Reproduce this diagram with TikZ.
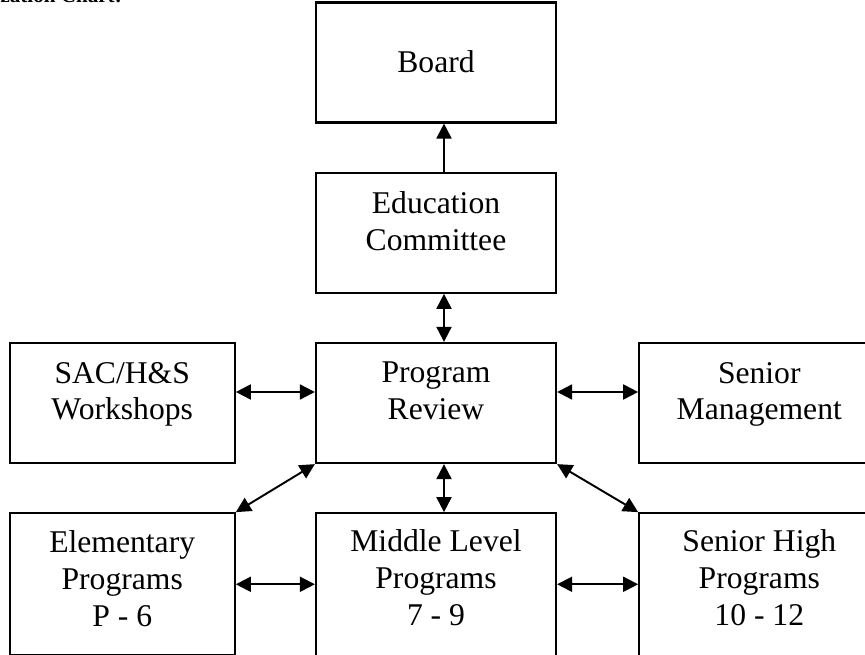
\documentclass[tikz,border=0pt]{standalone}
\usepackage{fontspec}
\setmainfont{Liberation Serif}
\usetikzlibrary{arrows.meta}
\usetikzlibrary{positioning}

\tikzset{
	unit/.style={draw,line width=1.3pt,minimum width=4.8cm,minimum height=2.4cm,
		align=center,inner sep=0pt,font=\fontsize{18}{21}\selectfont},
	narrow/.style={minimum width=4.5cm},
	raised/.style={text depth=0.48cm},
	link/.style={line width=1.1pt,>={Triangle[length=0.3cm,width=0.3cm]}}
}

\begin{document}
\begin{tikzpicture}[node distance=0.96cm]
			\useasboundingbox (-8.72,-5.02) rectangle (8.58,8.06);
			\node[unit,raised] (Review) {Program\\Review};
			\node[unit,raised] [above=of Review] (Education) {Education\\Committee};
			\node[unit,text depth=0.05cm] [above=of Education] (Board) {Board};
			\node[unit,narrow,raised] [left=1.58cm of Review] (Workshops) {SAC/H\&S\\Workshops};
			\node[unit,raised] [right=1.62cm of Review] (Management) {Senior\\Management};
			\node[unit,narrow,minimum height=2.84cm,text depth=0.24cm] [below=of Workshops] (Elementary) {Elementary\\Programs\\P - 6};
			\node[unit,minimum height=3cm,text depth=0.44cm] [below=of Review] (Middle) {Middle Level\\Programs\\7 - 9};
			\node[unit,minimum height=3cm,text depth=0.44cm] [below=of Management] (High) {Senior High\\Programs\\10 - 12};
			\node[anchor=base east,font=\fontsize{12}{14}\selectfont\bfseries] (Title) at (-6.16,8.00) {Organization Chart:};

			\path[link,->]
			([xshift=0.16cm]Education.north) edge ([xshift=0.16cm]Board.south);
			\path[link,<->]
			([xshift=0.16cm]Review.north) edge ([xshift=0.16cm]Education.south)
			([xshift=0.16cm]Review.south) edge ([xshift=0.16cm]Middle.north)
			([yshift=0.22cm]Workshops.east) edge ([yshift=0.22cm]Review.west)
			([yshift=0.22cm]Review.east) edge ([yshift=0.22cm]Management.west)
			(Review.south west) edge (Elementary.north east)
			(Review.south east) edge (High.north west)
			(Elementary.east) edge (Elementary.east -| Middle.west)
			(Elementary.east -| Middle.east) edge (Elementary.east -| High.west)
			;
		\end{tikzpicture}
\end{document}
